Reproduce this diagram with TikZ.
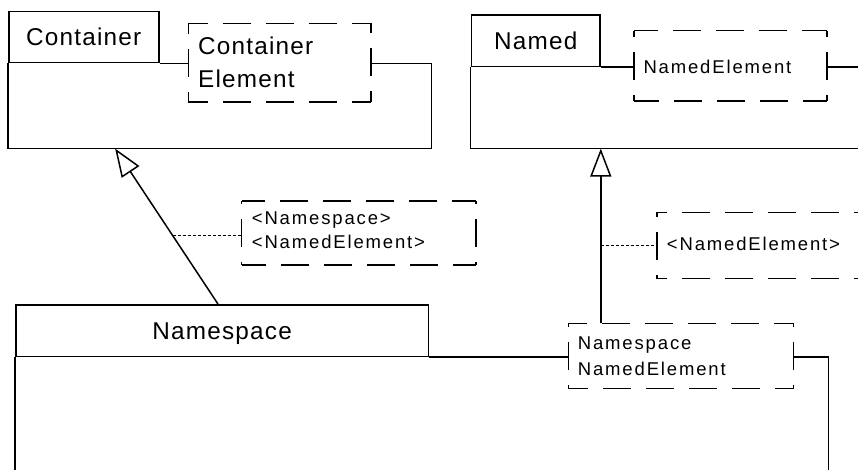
\documentclass[tikz,border=0pt]{standalone}
\usepackage{fontspec}
\setmainfont{Liberation Sans}
\newfontfamily\bigfont[LetterSpace=5]{Liberation Sans}
\newfontfamily\smallfont[LetterSpace=10]{Liberation Sans}
\usetikzlibrary{arrows.meta,calc}
% one dashed side: two corner pieces (at least #4 long), dashes of 28 and gaps of 15
\newcommand\dashside[4]{%
  \pgfmathsetmacro\dsk{max(0,floor((#3-2*#4-15)/43))}%
  \pgfmathsetmacro\dsc{(#3-28*\dsk-15*(\dsk+1))/2}%
  \pgfmathsetmacro\dsp{max(0,28-\dsc)}%
  \draw[dashedge, dash pattern=on 28pt off 15pt, dash phase=\dsp pt] (#1) -- (#2);}
\newcommand\dashframe[3]{%
  \dashside{#1.north west}{#1.north east}{#2}{8}%
  \dashside{#1.north east}{#1.south east}{#3}{2}%
  \dashside{#1.south east}{#1.south west}{#2}{8}%
  \dashside{#1.south west}{#1.north west}{#3}{2}}
\begin{document}
\begin{tikzpicture}[x=1pt,y=-1pt,
  tabbox/.style={draw, line width=1.5pt, inner sep=0pt, anchor=north west,
    font=\bigfont\fontsize{24.3}{30}\selectfont, text height=17.4pt, text depth=0pt},
  bodybox/.style={inner sep=0pt, anchor=north west},
  tmplbox/.style={inner sep=0pt, anchor=north west},
  dashedge/.style={line width=1.5pt},
  bigtxt/.style={font=\bigfont\fontsize{24.3}{30}\selectfont, inner sep=0pt, anchor=base west},
  smalltxt/.style={font=\smallfont\fontsize{18.5}{22}\selectfont, inner sep=0pt, anchor=base west},
  edgeline/.style={line width=1.5pt},
  gen/.style={line width=1.5pt, -{Triangle[open,length=28pt,width=21pt]}},
  dotline/.style={line width=1.1pt, dash pattern=on 3pt off 2pt}
]
\useasboundingbox (0,0) rectangle (858,470);
\clip (0,0) rectangle (858,470);

% ---------- Container ----------
\node[tabbox, minimum width=150pt, minimum height=51pt] (ctab) at (8,11) {Container};
\node[bodybox, minimum width=423pt, minimum height=84.7pt] (cbody) at (ctab.south west) {};
\node[tmplbox, minimum width=182.4pt, minimum height=78.4pt] (ctmpl) at (188.3,23.3) {};
\dashframe{ctmpl}{182.4}{78.4}
\node[bigtxt] (ctmplA) at (198,54.3) {Container};
\node[bigtxt] (ctmplB) at (198,87.3) {Element};
\draw[edgeline] (ctab.south east) -- (ctmpl.west |- ctab.south);
\draw[edgeline] (ctmpl.east |- cbody.north) -- (cbody.north east) -- (cbody.south east)
  -- (cbody.south west) -- (cbody.north west);

% ---------- Named ----------
\node[tabbox, minimum width=128.6pt, minimum height=51.4pt] (ntab) at (470.7,14.3) {Named};
\node[bodybox, minimum width=430pt, minimum height=81pt] (nbody) at (ntab.south west) {};
\node[tmplbox, minimum width=192.7pt, minimum height=70pt] (ntmpl) at (634,30.7) {};
\dashframe{ntmpl}{192.7}{70}
\node[smalltxt] (ntmplA) at (643.3,73.3) {NamedElement};
\draw[edgeline] (ntab.south east) -- (ntmpl.west |- ntab.south);
\draw[edgeline] (ntmpl.east |- nbody.north) -- (nbody.north east);
\draw[edgeline] (nbody.north west) -- (nbody.south west) -- (nbody.south east);

% ---------- Namespace ----------
\node[tabbox, minimum width=412.7pt, minimum height=51.7pt] (nstab) at (15,304) {Namespace};
\node[bodybox, minimum width=813pt, minimum height=150pt] (nsbody) at (nstab.south west) {};
\node[tmplbox, minimum width=225pt, minimum height=65pt] (nstmpl) at (568.3,323.3) {};
\dashframe{nstmpl}{225}{65}
\node[smalltxt] (nstmplA) at (577.7,349) {Namespace};
\node[smalltxt] (nstmplB) at (577.7,375) {NamedElement};
\draw[edgeline] (nstab.south east) -- (nstmpl.west |- nstab.south);
\draw[edgeline] (nstmpl.east |- nsbody.north) -- (nsbody.north east) -- (nsbody.south east);
\draw[edgeline] (nsbody.north west) -- (nsbody.south west);

% ---------- binding notes ----------
\node[tmplbox, minimum width=233.8pt, minimum height=63.5pt] (note1) at (241.7,201) {};
\dashframe{note1}{233.8}{63.5}
\node[smalltxt] (note1A) at (251.7,225) {<Namespace>};
\node[smalltxt] (note1B) at (251.7,248) {<NamedElement>};
\node[tmplbox, minimum width=250pt, minimum height=66pt] (note2) at (657,212.3) {};
\dashframe{note2}{250}{66}
\node[smalltxt] (note2A) at (666.7,250) {<NamedElement>};

% ---------- generalizations ----------
\draw[gen] ($(nstab.north west)!0.49!(nstab.north east)$)
  -- coordinate[pos=0.44] (g1m) ($(cbody.south west)!0.253!(cbody.south east)$);
\draw[dotline] (g1m) -- (g1m -| note1.west);

\draw[gen] (nstmpl.north -| ntab.east) -- (nbody.south -| ntab.east);
\draw[dotline] (note2.west -| ntab.east) -- (note2.west);
\end{tikzpicture}
\end{document}
